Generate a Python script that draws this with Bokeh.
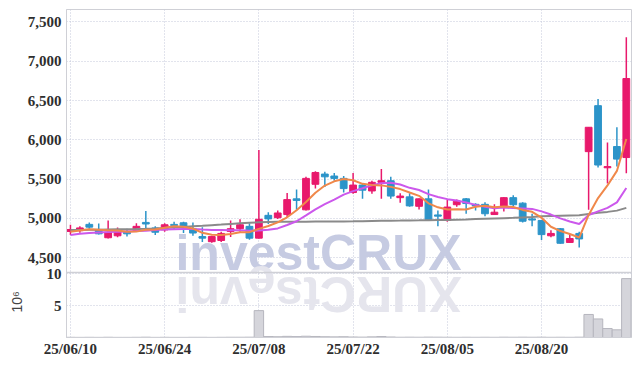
import math
from bokeh.plotting import figure
from bokeh.models import (ColumnDataSource, Range1d, FixedTicker, Title, Span,
                          NumeralTickFormatter)
from bokeh.core.properties import value
from bokeh.embed import file_html
from bokeh.resources import INLINE

# ---------------- data ----------------
dates = ["25/06/10", "25/06/11", "25/06/12", "25/06/13", "25/06/16", "25/06/17", "25/06/18", "25/06/19",
         "25/06/20", "25/06/23", "25/06/24", "25/06/25", "25/06/26", "25/06/27", "25/06/30", "25/07/01",
         "25/07/02", "25/07/03", "25/07/04", "25/07/07", "25/07/08", "25/07/09", "25/07/10", "25/07/11",
         "25/07/14", "25/07/15", "25/07/16", "25/07/17", "25/07/18", "25/07/21", "25/07/22", "25/07/23",
         "25/07/24", "25/07/25", "25/07/28", "25/07/29", "25/07/30", "25/07/31", "25/08/01", "25/08/04",
         "25/08/05", "25/08/06", "25/08/07", "25/08/08", "25/08/11", "25/08/12", "25/08/13", "25/08/14",
         "25/08/18", "25/08/19", "25/08/20", "25/08/21", "25/08/22", "25/08/25", "25/08/26", "25/08/27",
         "25/08/28", "25/08/29", "25/09/01", "25/09/02"]

opens = [4835, 4845, 4925, 4855, 4755, 4780, 4835, 4845, 4950, 4880,
         4855, 4925, 4945, 4870, 4770, 4705, 4720, 4835, 4870, 4900,
         4750, 5040, 5010, 5050, 5250, 5110, 5435, 5565, 5540, 5510,
         5330, 5425, 5350, 5460, 5480, 5265, 5275, 5155, 5250, 5045,
         4975, 5175, 5250, 5180, 5180, 5050, 5160, 5265, 5195, 4995,
         4975, 4780, 4870, 4695, 4810, 5850, 6435, 5645, 5915, 5775]
highs = [4920, 4900, 4950, 4935, 4975, 4885, 4870, 4940, 5095, 4900,
         4940, 4960, 4960, 4950, 4890, 4780, 4830, 4975, 4990, 4940,
         5870, 5080, 5100, 5325, 5370, 5530, 5600, 5595, 5580, 5540,
         5580, 5450, 5480, 5630, 5530, 5320, 5320, 5255, 5370, 5100,
         5240, 5240, 5260, 5195, 5205, 5180, 5270, 5295, 5205, 5060,
         4975, 4850, 4880, 4795, 4830, 6165, 6520, 5965, 6160, 7305]
lows = [4790, 4820, 4870, 4795, 4745, 4760, 4770, 4830, 4870, 4790,
        4830, 4860, 4815, 4780, 4700, 4690, 4700, 4765, 4830, 4730,
        4745, 4930, 4995, 5015, 5110, 5100, 5380, 5400, 5480, 5330,
        5315, 5250, 5315, 5250, 5250, 5200, 5150, 5115, 4975, 4900,
        4960, 5150, 5060, 5100, 5030, 5050, 5090, 5145, 4950, 4900,
        4725, 4760, 4680, 4690, 4630, 5110, 5650, 5445, 5660, 5575]
closes = [4860, 4880, 4890, 4805, 4820, 4835, 4805, 4900, 4930, 4825,
          4920, 4910, 4895, 4815, 4750, 4770, 4810, 4870, 4920, 4750,
          4990, 4995, 5070, 5240, 5230, 5510, 5585, 5530, 5510, 5380,
          5425, 5360, 5460, 5480, 5285, 5285, 5160, 5250, 4985, 5030,
          5145, 5220, 5190, 5160, 5060, 5080, 5265, 5175, 4965, 4980,
          4795, 4810, 4685, 4745, 4740, 6160, 5680, 5660, 5755, 6780]

ma_short = [4830, 4848, 4862, 4858, 4851, 4846, 4831, 4833, 4858, 4859,
            4883, 4902, 4896, 4873, 4818, 4792, 4790, 4803, 4824, 4826,
            4868, 4905, 4950, 5015, 5105, 5209, 5327, 5419, 5473, 5503,
            5486, 5441, 5427, 5421, 5402, 5374, 5330, 5288, 5193, 5142,
            5115, 5118, 5114, 5149, 5161, 5142, 5151, 5147, 5109, 5085,
            5010, 4895, 4840, 4803, 4758, 5045, 5260, 5420, 5605, 6012]
ma_mid = [4790, 4805, 4815, 4822, 4828, 4832, 4836, 4840, 4845, 4852,
          4861, 4864, 4865, 4866, 4859, 4854, 4853, 4850, 4849, 4843,
          4848, 4857, 4874, 4917, 4965, 5039, 5116, 5182, 5241, 5304,
          5348, 5384, 5423, 5447, 5455, 5432, 5390, 5362, 5310, 5274,
          5246, 5230, 5203, 5173, 5150, 5130, 5139, 5132, 5128, 5122,
          5090, 5050, 5002, 4962, 4930, 5045, 5090, 5135, 5205, 5388]
ma_long = [4855, 4855, 4857, 4858, 4860, 4862, 4863, 4865, 4868, 4872,
           4878, 4885, 4892, 4900, 4907, 4915, 4922, 4930, 4938, 4945,
           4952, 4955, 4957, 4958, 4960, 4960, 4961, 4962, 4963, 4963,
           4964, 4966, 4968, 4970, 4972, 4973, 4975, 4976, 4978, 4980,
           4982, 4985, 4988, 4992, 4996, 5000, 5004, 5008, 5014, 5020,
           5028, 5033, 5036, 5038, 5040, 5058, 5072, 5084, 5100, 5135]

volume_m = [0.03, 0.02, 0.03, 0.02, 0.04, 0.02, 0.02, 0.03, 0.05, 0.02,
            0.03, 0.02, 0.02, 0.03, 0.03, 0.02, 0.03, 0.04, 0.04, 0.05,
            4.2, 0.15, 0.12, 0.18, 0.14, 0.2, 0.16, 0.12, 0.1, 0.12,
            0.08, 0.06, 0.1, 0.15, 0.08, 0.04, 0.05, 0.04, 0.06, 0.05,
            0.04, 0.03, 0.04, 0.03, 0.04, 0.03, 0.05, 0.04, 0.05, 0.04,
            0.05, 0.03, 0.04, 0.03, 0.05, 3.6, 2.9, 1.4, 1.2, 9.2]

price_ticks = [4500, 5000, 5500, 6000, 6500, 7000, 7500]
volume_ticks = [5, 10]
volume_unit_label = "10⁶"
watermark = "investCRUX"
date_tick_step = 10

# ---------------- layout / styling constants ----------------
W, H = 639, 366
FRAME_LEFT, FRAME_RIGHT_PAD, FRAME_TOP, FRAME_BOT_PAD = 66, 8, 9, 29
FRAME_BOT = H - FRAME_BOT_PAD          # 337
SPLIT_PX = 272                          # bottom of price panel
VOL_TOP_PX = 273                        # top of volume panel
PRICE_PANEL = (4313, 7658)              # price at SPLIT_PX and at FRAME_TOP
VOL_PANEL_MAX = 10                      # volume at VOL_TOP_PX

RED = "#e8196c"
BLUE = "#2c94c9"
GRID = "#c4c8da"
FRAME = "#cfd0d6"
LABEL_FONT = "Liberation Sans Narrow"
LABEL_COLOR = "#2e2e2e"

ppx = (PRICE_PANEL[1] - PRICE_PANEL[0]) / (SPLIT_PX - FRAME_TOP)
price_lo = PRICE_PANEL[0] - (FRAME_BOT - SPLIT_PX) * ppx
vpx = VOL_PANEL_MAX / (FRAME_BOT - VOL_TOP_PX)
vol_hi = VOL_PANEL_MAX + (VOL_TOP_PX - FRAME_TOP) * vpx


def vol_to_price(v):
    return price_lo + (v / vpx) * ppx


def px_to_price(py):
    return PRICE_PANEL[0] - (py - SPLIT_PX) * ppx


xs = list(range(len(dates)))
date_ticks = xs[::date_tick_step]

colors = [RED if c >= o else BLUE for o, c in zip(opens, closes)]
src = ColumnDataSource(dict(
    x=xs, top=[max(o, c) for o, c in zip(opens, closes)],
    bottom=[min(o, c) for o, c in zip(opens, closes)],
    high=highs, low=lows, color=colors))

p = figure(width=W, height=H, x_range=Range1d(-0.42, 59.55),
           y_range=Range1d(price_lo, PRICE_PANEL[1]),
           toolbar_location=None, output_backend="svg",
           min_border_left=FRAME_LEFT, min_border_right=FRAME_RIGHT_PAD,
           min_border_top=FRAME_TOP, min_border_bottom=FRAME_BOT_PAD)
p.extra_y_ranges = {"vol": Range1d(0, vol_hi)}
p.outline_line_color = FRAME

# left axis: price ticks for the upper panel, volume ticks for the lower panel
vol_tick_pos = {int(round(vol_to_price(v))): str(v) for v in volume_ticks}
p.yaxis.ticker = FixedTicker(ticks=price_ticks + list(vol_tick_pos.keys()))
p.yaxis.formatter = NumeralTickFormatter(format="0,0")
p.yaxis.major_label_overrides = vol_tick_pos
p.yaxis.major_tick_line_color = None
p.yaxis.minor_tick_line_color = None
p.yaxis.major_tick_out = 0
p.yaxis.major_tick_in = 0
p.yaxis.minor_tick_out = 0
p.yaxis.axis_line_color = FRAME
p.yaxis.major_label_standoff = 5
p.yaxis.major_label_text_font = LABEL_FONT
p.yaxis.major_label_text_font_style = "bold"
p.yaxis.major_label_text_font_size = "15px"
p.yaxis.major_label_text_color = LABEL_COLOR

p.xaxis.ticker = FixedTicker(ticks=date_ticks)
p.xaxis.major_label_overrides = {i: dates[i] for i in date_ticks}
p.xaxis.major_tick_line_color = None
p.xaxis.minor_tick_line_color = None
p.xaxis.major_tick_out = 0
p.xaxis.major_tick_in = 0
p.xaxis.minor_tick_out = 0
p.xaxis.axis_line_color = FRAME
p.xaxis.major_label_standoff = 3
p.xaxis.major_label_text_font = LABEL_FONT
p.xaxis.major_label_text_font_style = "bold"
p.xaxis.major_label_text_font_size = "15px"
p.xaxis.major_label_text_color = LABEL_COLOR

p.grid.grid_line_color = GRID
p.grid.grid_line_dash = "1 2"

# panel separator
p.add_layout(Span(location=PRICE_PANEL[0], dimension="width", line_color=FRAME, line_width=1.5))

# volume unit, shown vertically at the left of the volume panel
p.add_layout(Title(text=volume_unit_label, align="left", offset=25, standoff=0,
                   text_font="Liberation Sans", text_font_style="normal",
                   text_font_size="14px", text_color="#444444"), "left")

# watermark + reflection (behind everything else)
WM_PX = 50
wm_left_px = 175.0
px_per_idx = 9.42
x0_px = 70.0
em = {"i": 0.278, "n": 0.611, "v": 0.556, "e": 0.556, "s": 0.556, "t": 0.333,
      "C": 0.722, "R": 0.722, "U": 0.722, "X": 0.667}
p.text(x=[(wm_left_px - x0_px) / px_per_idx], y=[px_to_price(280.5)], text=[watermark],
       text_font=value("Liberation Sans"), text_font_style="bold", text_font_size=f"{WM_PX}px",
       text_color="#c6cbe2", text_baseline="bottom", text_align="left")
cx, cur = [], wm_left_px
for ch in watermark:
    w = em[ch] * WM_PX
    cx.append((cur + w / 2 - x0_px) / px_per_idx)
    cur += w
p.text(x=cx, y=[px_to_price(265.5)] * len(cx), text=list(watermark), angle=math.pi,
       text_font=value("Liberation Sans"), text_font_style="bold", text_font_size=f"{WM_PX}px",
       text_color="#e5e5ed", text_baseline="bottom", text_align="center")

# volume
p.vbar(x=xs, top=volume_m, bottom=0, width=1.0, fill_color="#d5d5db",
       line_color="#b6b6be", line_width=1, y_range_name="vol")

# candles and moving averages
p.vbar(x="x", width=0.72, top="top", bottom="bottom", fill_color="color",
       line_color="color", source=src)
p.segment(x0="x", y0="low", x1="x", y1="high", line_color="color", line_width=1.5, source=src)
p.line(xs, ma_long, line_color="#8a8a8a", line_width=2)
p.line(xs, ma_mid, line_color="#cc58ec", line_width=2)
p.line(xs, ma_short, line_color="#f0884a", line_width=2)

open("out.html", "w").write(file_html(p, INLINE))
